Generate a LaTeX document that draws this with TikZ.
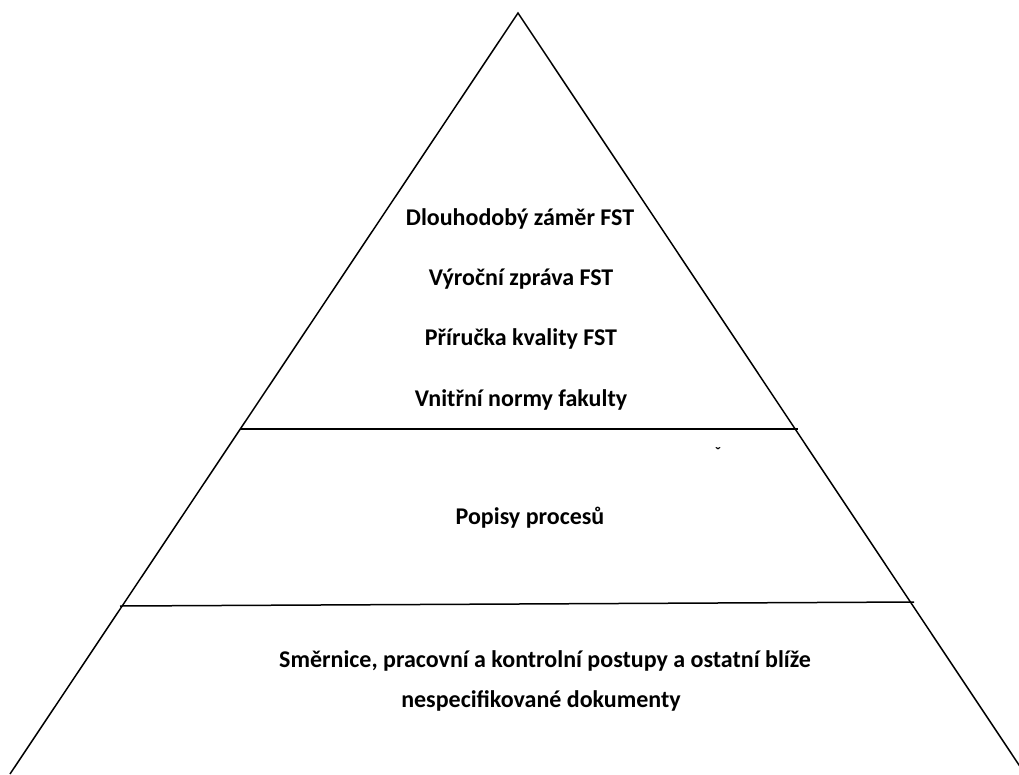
\documentclass[tikz,border=0pt]{standalone}
\usepackage{fontspec}
\setmainfont{Carlito}
\usepackage{tikz}

\begin{document}
\begin{tikzpicture}[x=1pt, y=-1pt,
    level/.style={font=\bfseries\fontsize{24}{28}\selectfont, text=black, inner sep=0pt},
    edge/.style={draw=black, line width=1.5pt}]
  \clip (0, 0) rectangle (1019, 774);

  \coordinate (top) at (518, 13);
  \coordinate (bl) at (10, 774);
  \coordinate (br) at (1025, 774);
  \coordinate (l1) at (240, 429);
  \coordinate (r1) at (798, 429);
  \coordinate (l2) at (120, 606);
  \coordinate (r2) at (914, 602);

  \node[level] (zamer) at (520, 219) {Dlouhodobý záměr FST};
  \node[level] (zprava) at (521, 279) {Výroční zpráva FST};
  \node[level] (prirucka) at (521, 339) {Příručka kvality FST};
  \node[level] (normy) at (521, 400) {Vnitřní normy fakulty};

  \node[level, font=\bfseries\fontsize{16}{18}\selectfont] (mark) at (718, 453) {ˇ};

  \node[level] (procesy) at (530, 518) {Popisy procesů};

  \node[level] (smernice) at (545, 661) {Směrnice, pracovní a kontrolní postupy a ostatní blíže};
  \node[level] (dokumenty) at (541, 701) {nespecifikované dokumenty};

  \draw[edge] (bl) -- (top) -- (br);
  \draw[edge] (l1) -- (r1);
  \draw[edge] (l2) -- (r2);
\end{tikzpicture}
\end{document}
